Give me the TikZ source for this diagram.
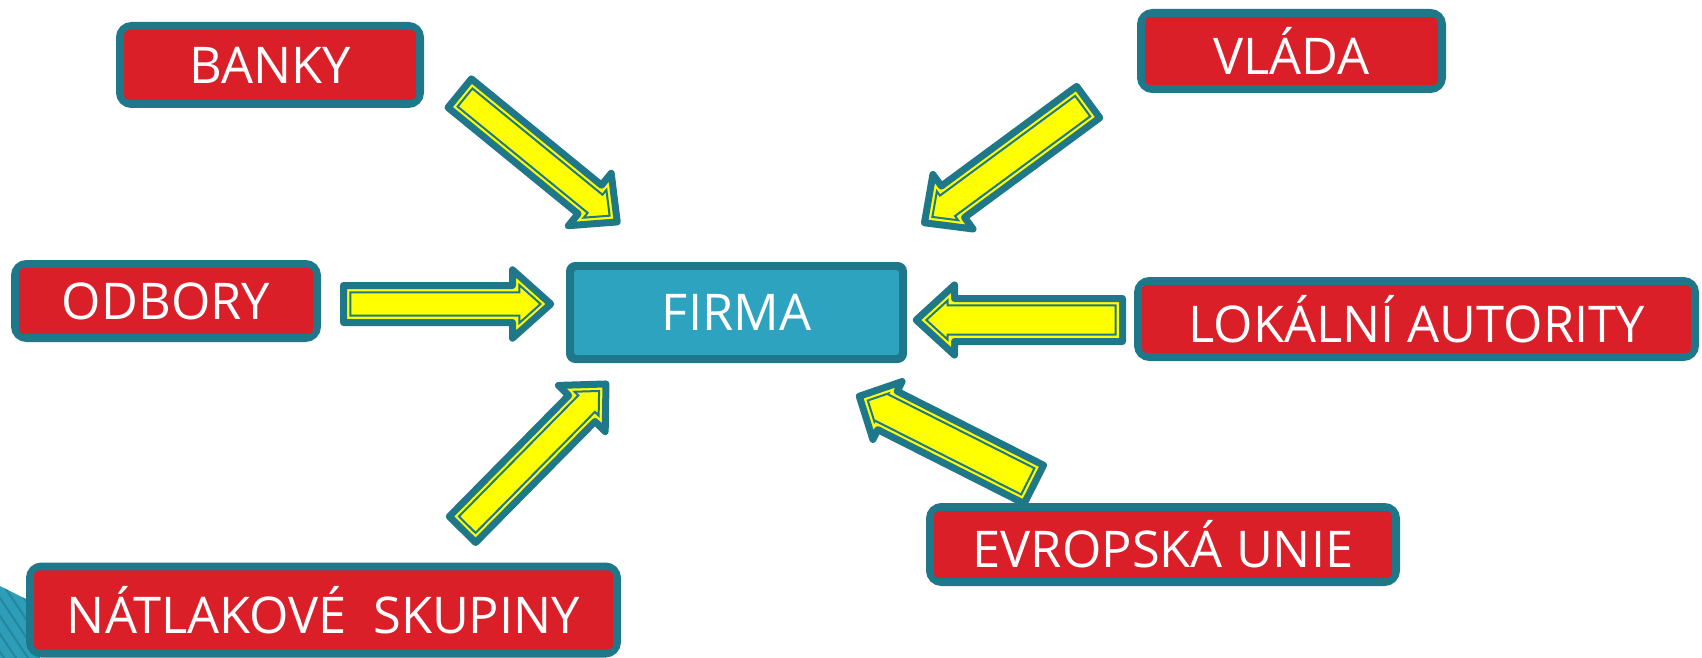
\documentclass[tikz,border=0pt]{standalone}
\usepackage{fontspec}
\setmainfont{Open Sans}
\definecolor{tealc}{HTML}{1F788A}
\definecolor{redc}{HTML}{DA1F28}
\definecolor{firmac}{HTML}{2DA3C0}
\definecolor{yelc}{HTML}{FFFF00}
\definecolor{decoc}{HTML}{2E9DB8}
\definecolor{decod}{HTML}{2586A0}
\tikzset{
  redbox/.style={draw=tealc, line width=3.5pt, fill=redc, rounded corners=6pt,
    text=white, font=\fontsize{25.3}{29}\selectfont, inner sep=0pt},
  firmabox/.style={redbox, fill=firmac, rounded corners=3pt},
  innerline/.style={draw=tealc, line width=1pt, rounded corners=2pt},
  arrout/.style={draw=tealc, fill=yelc, line width=3.5pt, line join=round},
  arrin/.style={draw=tealc, line width=1pt, line join=miter},
}
% #1 x, #2 y (tail centre), #3 rotation, #4 length, #5 shaft half, #6 head half, #7 head length
\newcommand{\blockarr}[7]{%
  \begin{scope}[shift={(#1,#2)}, rotate=#3]
    \pgfmathsetmacro{\sv}{sqrt((#6)*(#6)+(#7)*(#7))}
    \pgfmathsetmacro{\oax}{3.5}
    \pgfmathsetmacro{\obx}{#4-#7+3.5}
    \pgfmathsetmacro{\oay}{#5-3.5}
    \pgfmathsetmacro{\ohy}{#6-3.5*(\sv+#6)/#7}
    \pgfmathsetmacro{\otx}{#4-3.5*\sv/#6}
    \pgfmathsetmacro{\iax}{10.3}
    \pgfmathsetmacro{\ibx}{#4-#7+10.3}
    \pgfmathsetmacro{\iay}{#5-10.3}
    \pgfmathsetmacro{\ihy}{#6-10.3*(\sv+#6)/#7}
    \pgfmathsetmacro{\itx}{#4-10.3*\sv/#6}
    \draw[arrout] (\oax,\oay) -- (\obx,\oay) -- (\obx,\ohy) -- (\otx,0) -- (\obx,-\ohy) -- (\obx,-\oay) -- (\oax,-\oay) -- cycle;
    \draw[arrin] (\iax,\iay) -- (\ibx,\iay) -- (\ibx,\ihy) -- (\itx,0) -- (\ibx,-\ihy) -- (\ibx,-\iay) -- (\iax,-\iay) -- cycle;
  \end{scope}}
\newcommand{\innerframe}[1]{%
  \draw[innerline] ([shift={(3.4pt,3.4pt)}]#1.south west) rectangle ([shift={(-3.4pt,-3.4pt)}]#1.north east);}
\begin{document}
\begin{tikzpicture}[x=0.5pt,y=-0.5pt]
\useasboundingbox (0,0) rectangle (1702,658);
% background decoration bottom-left
\begin{scope}
  \clip (0,586) -- (40,606) -- (40,658) -- (0,658) -- cycle;
  \fill[decoc] (0,580) rectangle (40,658);
  \foreach \k in {-60,-48,...,60} {
    \draw[decod, line width=1pt] (\k,580) -- (\k+60,670);
  }
\end{scope}
% arrows
\blockarr{340}{304}{0}{216}{22}{42}{47}
\blockarr{1126}{320}{180}{215}{25}{43}{47}
\blockarr{457}{91}{-39.25}{212}{22}{42}{44}
\blockarr{1091}{100}{-143.6}{212}{23}{42}{44}
\blockarr{460}{532}{45.4}{213}{22}{41}{43}
\blockarr{1037}{486}{153.2}{204}{25}{41}{40}
% boxes
\node[redbox, minimum width=150.5pt, minimum height=39.5pt] (banky) at (270,65) {BANKY};
\innerframe{banky}
\node[redbox, minimum width=151pt, minimum height=38.5pt] (vlada) at (1291.5,51) {VLÁDA};
\innerframe{vlada}
\node[redbox, minimum width=151.5pt, minimum height=37.5pt] (odbory) at (166,301) {ODBORY};
\innerframe{odbory}
\node[firmabox, minimum width=167pt, minimum height=47pt] (firma) at (736.5,312.5) {FIRMA};
\innerframe{firma}
\node[redbox, minimum width=279pt, minimum height=38.5pt] (lokalni) at (1416.5,319) {LOKÁLNÍ AUTORITY};
\innerframe{lokalni}
\node[redbox, minimum width=233.5pt, minimum height=38pt] (eu) at (1163,544.5) {EVROPSKÁ UNIE};
\innerframe{eu}
\node[redbox, minimum width=294pt, minimum height=44pt] (natlak) at (323.5,610) {NÁTLAKOVÉ\ \ SKUPINY};
\innerframe{natlak}
\end{tikzpicture}
\end{document}
